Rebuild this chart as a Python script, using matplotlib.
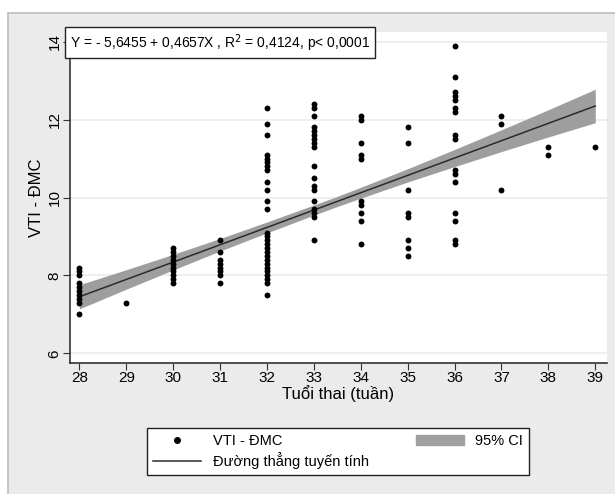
import matplotlib.pyplot as plt
import matplotlib.patches as mpatches
from matplotlib.lines import Line2D
import numpy as np

plt.rcParams['font.family'] = ['Liberation Sans Narrow', 'Liberation Sans', 'DejaVu Sans']

# VTI - DMC values by gestational week
vti = {
    28: [8.2, 8.1, 8.0, 7.8, 7.7, 7.6, 7.5, 7.4, 7.3, 7.0],
    29: [7.3],
    30: [8.7, 8.6, 8.5, 8.4, 8.3, 8.2, 8.1, 8.0, 7.9, 7.8],
    31: [8.9, 8.6, 8.4, 8.3, 8.2, 8.1, 8.0, 7.8],
    32: [12.3, 11.9, 11.6, 11.1, 11.0, 10.9, 10.8, 10.7, 10.4, 10.2, 9.9, 9.7,
         9.1, 9.0, 8.9, 8.8, 8.7, 8.6, 8.5, 8.4, 8.3, 8.2, 8.1, 8.0, 7.9, 7.8, 7.5],
    33: [12.4, 12.3, 12.1, 11.8, 11.7, 11.6, 11.5, 11.4, 11.3, 10.8, 10.5, 10.3,
         10.2, 9.9, 9.7, 9.6, 9.5, 8.9],
    34: [12.1, 12.0, 11.4, 11.1, 11.0, 9.9, 9.8, 9.6, 9.4, 8.8],
    35: [11.8, 11.4, 10.2, 9.6, 9.5, 8.9, 8.7, 8.5],
    36: [13.9, 13.1, 12.7, 12.6, 12.5, 12.3, 12.2, 11.6, 11.5, 10.7, 10.6, 10.4,
         9.6, 9.4, 8.9, 8.8],
    37: [12.1, 11.9, 10.2],
    38: [11.3, 11.1],
    39: [11.3],
}

# fitted line and half-width of the 95% CI band
fit_x = [28, 39]
fit_y = [7.45, 12.35]
ci_x = [28, 29, 30, 31, 32, 33, 33.5, 34, 35, 36, 37, 38, 39]
ci_half = [0.31, 0.25, 0.2, 0.16, 0.14, 0.13, 0.13, 0.14, 0.17, 0.22, 0.28, 0.35, 0.43]

xticks = list(range(28, 40))
yticks = [6, 8, 10, 12, 14]
equation = 'Y = - 5,6455 + 0,4657X , R$^2$ = 0,4124, p< 0,0001'

fig = plt.figure(figsize=(6.15, 4.94), dpi=100)
fig.patch.set_facecolor('white')
bg = mpatches.Rectangle((8 / 615, -0.01), 1, 1.01 - 13 / 494, transform=fig.transFigure,
                        facecolor='#ebebeb', edgecolor='#bdbdbd', lw=1.2, zorder=-10)
fig.patches.append(bg)

ax = fig.add_axes([70 / 615, 1 - 363 / 494, 537 / 615, 331 / 494])
ax.set_facecolor('white')

xs = [w for w in vti for _ in vti[w]]
ys = [v for w in vti for v in vti[w]]

ci_mid = np.interp(ci_x, fit_x, fit_y)
ax.fill_between(ci_x, ci_mid - np.array(ci_half), ci_mid + np.array(ci_half),
                color='#9e9e9e', lw=0, zorder=2)
ax.plot(fit_x, fit_y, color='#2b2b2b', lw=1.1, zorder=3)
ax.scatter(xs, ys, s=18, color='black', zorder=4, lw=0)

ax.set_xlim(27.8, 39.25)
ax.set_ylim(5.75, 14.25)
ax.set_xticks(xticks)
ax.set_yticks(yticks)
ax.set_yticklabels([str(t) for t in yticks], rotation=90, va='center')
ax.tick_params(labelsize=11, length=5, color='#333333')
ax.tick_params(axis='x', pad=1)
ax.tick_params(axis='y', pad=1)
ax.grid(axis='y', color='#ececec', lw=1.2)
ax.set_axisbelow(True)
for s in ['top', 'right']:
    ax.spines[s].set_visible(False)
for s in ['left', 'bottom']:
    ax.spines[s].set_color('#333333')
    ax.spines[s].set_linewidth(1.2)

ax.set_xlabel('Tuổi thai (tuần)', fontsize=12, labelpad=0)
ax.set_ylabel('VTI - ĐMC', fontsize=12, labelpad=3)

ax.text(0.0, 1.0, equation, transform=ax.transAxes, fontsize=10, ha='left', va='top',
        bbox=dict(boxstyle='square,pad=0.35', facecolor='white', edgecolor='#222222', lw=1.0))

handles = [Line2D([], [], marker='o', ls='none', color='black', markersize=4),
           Line2D([], [], color='#2b2b2b', lw=1.1),
           mpatches.Patch(color='#a0a0a0')]
labels = ['VTI - ĐMC', 'Đường thẳng tuyến tính', '95% CI']
leg = fig.legend(handles, labels, ncol=2, loc='upper left', bbox_to_anchor=(140 / 615, 1 - 421 / 494),
                 fontsize=10.5, frameon=True, fancybox=False, edgecolor='#222222', framealpha=1,
                 handlelength=3.3, columnspacing=3.2, labelspacing=0.3, borderpad=0.4)
leg.get_frame().set_linewidth(1.0)

fig.savefig('out.png', dpi=100)
